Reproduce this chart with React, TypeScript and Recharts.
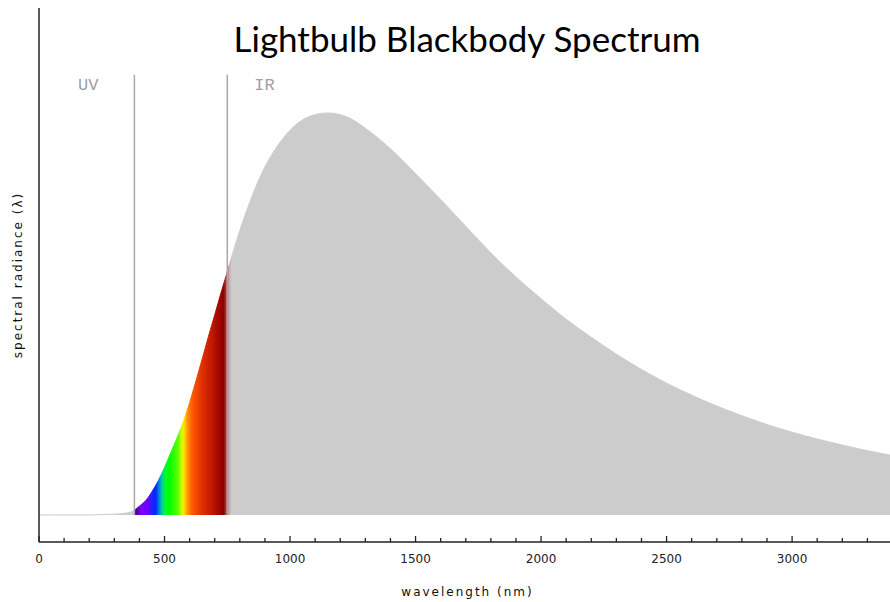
import React from 'react';
import { AreaChart, Area, XAxis, YAxis, ReferenceLine } from 'recharts';

// wavelength (nm) and relative spectral radiance
const wavelengths = [
  0, 50, 100, 150, 200, 250, 300, 350, 380, 400, 425, 450, 475, 500, 525, 550, 575, 600,
  625, 650, 675, 700, 725, 750, 775, 800, 850, 900, 950, 1000, 1050, 1100, 1150, 1200,
  1250, 1300, 1350, 1400, 1450, 1500, 1600, 1700, 1800, 1900, 2000, 2100, 2200, 2300,
  2400, 2500, 2600, 2700, 2800, 2900, 3000, 3100, 3200, 3300, 3390,
];
const radiance = [
  0, 0, 0, 0, 0, 0.001, 0.002, 0.005, 0.012, 0.022, 0.036, 0.058, 0.085, 0.118, 0.155, 0.192, 0.232, 0.28,
  0.333, 0.388, 0.444, 0.498, 0.552, 0.605, 0.658, 0.708, 0.795, 0.866, 0.918, 0.957, 0.983, 0.996, 1.0, 0.996,
  0.983, 0.962, 0.938, 0.911, 0.881, 0.849, 0.785, 0.718, 0.652, 0.592, 0.538, 0.487, 0.442, 0.4,
  0.362, 0.328, 0.298, 0.271, 0.247, 0.225, 0.206, 0.189, 0.174, 0.16, 0.149,
];

const majorTicks = [0, 500, 1000, 1500, 2000, 2500, 3000];
const minorTicks = [
  0, 100, 200, 300, 400, 500, 600, 700, 800, 900, 1000, 1100, 1200, 1300, 1400, 1500, 1600,
  1700, 1800, 1900, 2000, 2100, 2200, 2300, 2400, 2500, 2600, 2700, 2800, 2900, 3000, 3100,
  3200, 3300,
];

const bandEdges = [380, 750];
const bandNames = ['UV', 'IR'];
const bandLineTop = 1.095;

// colours of the visible band
const spectrumNm = [0, 378, 381, 395, 405, 435, 447, 465, 480, 492, 505, 520, 555, 568, 578, 590, 610, 650, 690, 715, 735, 745, 758, 768, 3390];
const spectrumColors = [
  '#cccccc', '#cccccc', '#3c0a6e', '#5a00b4', '#7a00ff', '#6a00ff', '#2a1eff', '#0028ff', '#0090d0',
  '#00d890', '#00ff20', '#00ff00', '#60ff00', '#d0ff00', '#ffe000', '#ff9a00', '#ff5a00', '#e03000',
  '#c01800', '#a00800', '#900000', '#a04040', '#c4b0b0', '#cccccc', '#cccccc',
];

const data = wavelengths.map((w, i) => ({ w, v: radiance[i] }));
const nmMin = wavelengths[0];
const nmMax = wavelengths[wavelengths.length - 1];

const AxisTick = (props: any) => {
  const { x, y, payload } = props;
  const major = majorTicks.includes(payload.value);
  return (
    <g>
      <line x1={x} x2={x} y1={y} y2={y - (major ? 6 : 4)} stroke="#222" strokeWidth={1.3} />
      {major && (
        <text x={x} y={y + 21} textAnchor="middle" fontSize={12} fontFamily="DejaVu Sans" fill="#222">
          {payload.value}
        </text>
      )}
    </g>
  );
};

const XLabel = ({ viewBox }: any) => (
  <text
    x={viewBox.x + viewBox.width / 2 + 3}
    y={viewBox.y + 54}
    textAnchor="middle"
    fontSize={12}
    fontFamily="DejaVu Sans"
    letterSpacing={2}
    fill="#111"
  >
    wavelength (nm)
  </text>
);

const YLabel = ({ viewBox }: any) => {
  const cx = viewBox.x + 18;
  const cy = viewBox.y + viewBox.height / 2;
  return (
    <text
      x={cx}
      y={cy}
      transform={`rotate(-90 ${cx} ${cy})`}
      textAnchor="middle"
      dominantBaseline="central"
      fontSize={12}
      fontFamily="DejaVu Sans"
      letterSpacing={2}
      fill="#111"
    >
      spectral radiance (λ)
    </text>
  );
};

const bandLabel = (name: string, side: number) => ({ viewBox }: any) => (
  <text
    x={viewBox.x + (side < 0 ? -36 : 27)}
    y={viewBox.y + 15}
    textAnchor={side < 0 ? 'end' : 'start'}
    fontSize={17}
    fontFamily="Liberation Mono"
    fill="#a0a0a0"
  >
    {name}
  </text>
);

export default function App() {
  return (
    <div style={{ position: 'absolute', left: 0, top: 0, width: 890, height: 602, background: '#fff' }}>
      <div
        style={{
          position: 'absolute',
          left: 44,
          width: 846,
          top: 16,
          textAlign: 'center',
          fontFamily: 'Lato',
          fontSize: 35,
          color: '#000',
          lineHeight: '44px',
        }}
      >
        Lightbulb Blackbody Spectrum
      </div>
      <AreaChart width={890} height={602} data={data} margin={{ top: 8, right: 0, bottom: 0, left: 0 }}>
        <defs>
          <linearGradient id="spec" x1="0" y1="0" x2="1" y2="0">
            {spectrumNm.map((nm, i) => (
              <stop key={i} offset={(nm - nmMin) / (nmMax - nmMin)} stopColor={spectrumColors[i]} />
            ))}
          </linearGradient>
        </defs>
        <XAxis
          dataKey="w"
          type="number"
          domain={[0, 3390]}
          ticks={minorTicks}
          interval={0}
          tick={<AxisTick />}
          tickLine={false}
          tickSize={0}
          tickMargin={0}
          height={60}
          axisLine={{ stroke: '#222', strokeWidth: 1.5 }}
          allowDataOverflow
          label={{ content: XLabel }}
        />
        <YAxis
          type="number"
          domain={[-0.0672, 1.2612]}
          width={39}
          tick={false}
          tickLine={false}
          axisLine={{ stroke: '#222', strokeWidth: 1.5 }}
          allowDataOverflow
          label={{ content: YLabel }}
        />
        <Area
          type="monotone"
          dataKey="v"
          baseValue={0}
          fill="url(#spec)"
          fillOpacity={1}
          stroke="url(#spec)"
          strokeWidth={1}
          isAnimationActive={false}
        />
        {bandEdges.map((nm, i) => (
          <ReferenceLine
            key={nm}
            segment={[{ x: nm, y: 0 }, { x: nm, y: bandLineTop }]}
            stroke="#a8a8a8"
            strokeWidth={1.5}
            label={{ content: bandLabel(bandNames[i], i === 0 ? -1 : 1) }}
          />
        ))}
      </AreaChart>
    </div>
  );
}
